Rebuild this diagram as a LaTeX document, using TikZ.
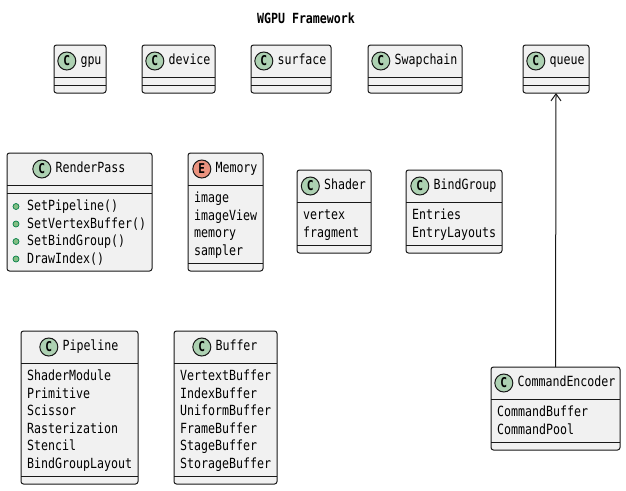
\documentclass[tikz,border=0pt]{standalone}
\usepackage{fontspec}
\newfontfamily\umlfont[FakeStretch=0.83]{DejaVu Sans Mono}
\usetikzlibrary{calc,arrows.meta,positioning}
\definecolor{boxfill}{HTML}{F1F1F1}
\definecolor{boxline}{HTML}{181818}
\definecolor{iconC}{HTML}{ADD1B2}
\definecolor{iconE}{HTML}{EB937F}
\definecolor{pubfill}{HTML}{84BE84}
\definecolor{publine}{HTML}{038048}
\newcommand\umltext{\umlfont\fontsize{14}{15}\selectfont}
\tikzset{
  classbox/.style={draw=boxline, fill=boxfill, line width=1pt, rounded corners=2.5pt,
    anchor=north west, inner sep=0pt, outer sep=0pt},
  sepline/.style={draw=boxline, line width=1pt},
  icon/.style={circle, draw=boxline, line width=1pt, minimum size=18pt, inner sep=0pt,
    font=\umlfont\bfseries\fontsize{13.5}{13.5}\selectfont},
  ctitle/.style={inner sep=0pt, text height=10pt, text depth=2.5pt, font=\umltext},
  attr/.style={anchor=base west, inner sep=0pt, font=\umltext},
  pubdot/.style={fill=pubfill, draw=publine, line width=0.7pt},
  arrowline/.style={draw=boxline, line width=1pt, -{Straight Barb[length=7pt,width=10pt]}}
}
% header: node name, letter, fill colour, title
\newcommand\classhead[4]{%
  \node[ctitle] (#1-t) at ($(#1.north)+(11,16)$) {#4};
  \node[icon, fill=#3, left=4pt of #1-t] (#1-i) {#2};
}
% separator at offset from top
\newcommand\csep[2]{\draw[sepline] ($(#1.north west)+(0,#2)$) -- ($(#1.north east)+(0,#2)$);}
% attributes: node, section top offset, list
\newcommand\cattrs[3]{%
  \foreach \t [count=\i, evaluate=\i as \yy using #2+17.5+(\i-1)*17.5] in {#3}
    {\node[attr] at ($(#1.north west)+(6,\yy)$) {\t};}
}
% methods: node, section top offset, list
\newcommand\cmeths[3]{%
  \foreach \t [count=\i, evaluate=\i as \yy using #2+17.5+(\i-1)*17.5,
               evaluate=\i as \yb using #2+13.5+(\i-1)*17.5] in {#3}
    {\node[attr] at ($(#1.north west)+(20,\yy)$) {\t};
     \draw[pubdot] ($(#1.north west)+(9,\yb)$) circle[radius=3pt];}
}
\begin{document}
\begin{tikzpicture}[x=1pt,y=-1pt]
\useasboundingbox[fill=white] (0,0) rectangle (626,490);

\node[font=\umlfont\bfseries\fontsize{14}{15}\selectfont, inner sep=0pt] (title) at (306,18) {WGPU Framework};

% row 1
\node[classbox, minimum width=52pt, minimum height=48pt] (gpu) at (54,45) {};
\classhead{gpu}{C}{iconC}{gpu}\csep{gpu}{32}\csep{gpu}{40}
\node[classbox, minimum width=73pt, minimum height=48pt] (device) at (142,45) {};
\classhead{device}{C}{iconC}{device}\csep{device}{32}\csep{device}{40}
\node[classbox, minimum width=80pt, minimum height=48pt] (surface) at (251,45) {};
\classhead{surface}{C}{iconC}{surface}\csep{surface}{32}\csep{surface}{40}
\node[classbox, minimum width=94pt, minimum height=48pt] (swapchain) at (368,45) {};
\classhead{swapchain}{C}{iconC}{Swapchain}\csep{swapchain}{32}\csep{swapchain}{40}
\node[classbox, minimum width=66pt, minimum height=48pt] (queue) at (523,45) {};
\classhead{queue}{C}{iconC}{queue}\csep{queue}{32}\csep{queue}{40}

% row 2
\node[classbox, minimum width=145pt, minimum height=118pt] (renderpass) at (7,153) {};
\classhead{renderpass}{C}{iconC}{RenderPass}\csep{renderpass}{32}\csep{renderpass}{40}
\cmeths{renderpass}{40}{SetPipeline(),SetVertexBuffer(),SetBindGroup(),DrawIndex()}

\node[classbox, minimum width=75pt, minimum height=118pt] (memory) at (188,153) {};
\classhead{memory}{E}{iconE}{Memory}\csep{memory}{32}\csep{memory}{110}
\cattrs{memory}{32}{image,imageView,memory,sampler}

\node[classbox, minimum width=74pt, minimum height=83pt] (shader) at (297,170) {};
\classhead{shader}{C}{iconC}{Shader}\csep{shader}{32}\csep{shader}{75}
\cattrs{shader}{32}{vertex,fragment}

\node[classbox, minimum width=96pt, minimum height=83pt] (bindgroup) at (406,170) {};
\classhead{bindgroup}{C}{iconC}{BindGroup}\csep{bindgroup}{32}\csep{bindgroup}{75}
\cattrs{bindgroup}{32}{Entries,EntryLayouts}

% row 3
\node[classbox, minimum width=117pt, minimum height=153pt] (pipeline) at (21,331) {};
\classhead{pipeline}{C}{iconC}{Pipeline}\csep{pipeline}{32}\csep{pipeline}{145}
\cattrs{pipeline}{32}{ShaderModule,Primitive,Scissor,Rasterization,Stencil,BindGroupLayout}

\node[classbox, minimum width=103pt, minimum height=153pt] (buffer) at (174,331) {};
\classhead{buffer}{C}{iconC}{Buffer}\csep{buffer}{32}\csep{buffer}{145}
\cattrs{buffer}{32}{VertextBuffer,IndexBuffer,UniformBuffer,FrameBuffer,StageBuffer,StorageBuffer}

\node[classbox, minimum width=129pt, minimum height=83pt] (cmdenc) at (491,367) {};
\classhead{cmdenc}{C}{iconC}{CommandEncoder}\csep{cmdenc}{32}\csep{cmdenc}{75}
\cattrs{cmdenc}{32}{CommandBuffer,CommandPool}

\draw[arrowline] (cmdenc.north) -- (queue.south);
\end{tikzpicture}
\end{document}
